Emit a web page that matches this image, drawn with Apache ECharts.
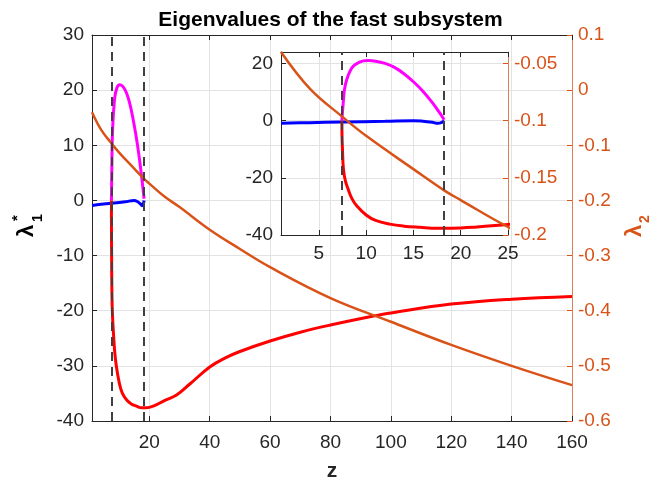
<!DOCTYPE html>
<html>
<head>
<meta charset="utf-8">
<script src="https://cdn.jsdelivr.net/npm/echarts@6/dist/echarts.min.js"></script>
<style>
  html, body { margin: 0; padding: 0; background: #fff; }
  #chart { width: 661px; height: 487px; }
</style>
</head>
<body>
<div id="chart"></div>
<script>
// dashed markers (z values)
const zMarks = [7.44, 18.25];

// lambda1* branches, [z, value]
const blueBranch = [
  [1, -0.9], [4, -0.7], [7.44, -0.5], [12, -0.25], [15, 0], [16, -0.2],
  [17, -0.6], [17.6, -0.95], [18, -0.6], [18.25, 0]
];
const magentaBranch = [
  [7.44, 0], [7.55, 5], [7.8, 12.5], [8.5, 18.5], [9.3, 20.5], [10.2, 21],
  [11, 20.8], [12, 20], [13, 18.6], [14, 16.4], [15, 13.6], [16, 10.3],
  [17, 6.3], [17.8, 2.6], [18.25, 0.3]
];
const redBranch = [
  [7.44, 0], [7.45, -5], [7.5, -10], [7.6, -17], [7.8, -21], [8.1, -24],
  [8.5, -27.3], [9, -29.8], [10, -33], [11, -34.9], [12.5, -36.2], [14, -36.9],
  [15.7, -37.3], [17.5, -37.6], [19, -37.6], [21.7, -37.2], [25, -36.3],
  [29, -35.3], [33.6, -33.2], [40, -30.2], [45, -28.6], [50, -27.4], [60, -25.5],
  [70, -23.9], [80, -22.6], [94, -21], [100, -20.4], [120, -18.8],
  [140, -17.9], [160, -17.4]
];
// lambda2, right axis
const lambda2 = [
  [1, -0.040], [4.1, -0.0725], [7.44, -0.0963], [10, -0.1133], [15, -0.1424],
  [18.25, -0.161], [20, -0.1695], [25, -0.193], [30, -0.212], [40, -0.253],
  [50, -0.288], [60, -0.321], [80, -0.377], [100, -0.42], [120, -0.462],
  [140, -0.5], [160, -0.535]
];

const FONT = 'Liberation Sans, Arial, sans-serif';
const DARK = '#262626';
const ORANGE = '#D95319';
const GRID = '#e3e3e3';

const chart = echarts.init(document.getElementById('chart'));

function xAx(grid, min, max, split, top) {
  return {
    type: 'value', gridIndex: grid, min, max, splitNumber: split,
    position: top ? 'top' : 'bottom',
    axisLine: { show: true, onZero: false, lineStyle: { color: DARK, width: 1 } },
    axisTick: { show: true, inside: true, length: 5, lineStyle: { color: DARK } },
    axisLabel: {
      show: !top, color: DARK, fontFamily: FONT, fontSize: 19,
      margin: grid === 0 ? 12 : 9,
      formatter: v => (v === min ? '' : String(v))
    },
    splitLine: { show: !top, lineStyle: { color: GRID } }
  };
}

function yAx(grid, min, max, interval, right, color, split) {
  return {
    type: 'value', gridIndex: grid, min, max, interval,
    position: right ? 'right' : 'left',
    axisLine: { show: true, onZero: false, lineStyle: { color, width: 1, opacity: right ? 0.7 : 1 } },
    axisTick: { show: true, inside: true, length: 5, lineStyle: { color } },
    axisLabel: {
      color, fontFamily: FONT, fontSize: 19, margin: right ? 6 : 8,
      showMaxLabel: grid === 0
    },
    splitLine: { show: split, lineStyle: { color: GRID } }
  };
}

function line(data, color, xi, yi, w) {
  return {
    type: 'line', data, xAxisIndex: xi, yAxisIndex: yi,
    showSymbol: false, symbol: 'none', smooth: 0.4,
    lineStyle: { color, width: w || 3 }, silent: true, animation: false
  };
}

function marks(xi, yi) {
  return {
    type: 'line', data: [], xAxisIndex: xi, yAxisIndex: yi, silent: true,
    markLine: {
      symbol: 'none', animation: false, label: { show: false },
      lineStyle: { color: '#404040', width: 2, type: [9, 6] },
      data: zMarks.map(z => ({ xAxis: z }))
    }
  };
}

chart.setOption({
  backgroundColor: '#fff',
  animation: false,
  title: {
    text: 'Eigenvalues of the fast subsystem', left: 'center', top: 5,
    textStyle: { fontFamily: FONT, fontSize: 21, fontWeight: 'bold', color: '#000' }
  },
  grid: [
    { left: 92, right: 89, top: 35, bottom: 66 },
    { left: 281, right: 153, top: 52, bottom: 252 }
  ],
  xAxis: [
    Object.assign(xAx(0, 1, 160, 8, false), {
      name: 'z', nameLocation: 'middle', nameGap: 40,
      nameTextStyle: { fontFamily: FONT, fontSize: 21, fontWeight: 'bold', color: DARK }
    }),
    xAx(0, 1, 160, 8, true),
    xAx(1, 1, 25, 5, false),
    xAx(1, 1, 25, 5, true)
  ],
  yAxis: [
    yAx(0, -40, 30, 10, false, DARK, true),
    yAx(0, -0.6, 0.1, 0.1, true, ORANGE, false),
    yAx(1, -40, 24, 20, false, DARK, true),
    yAx(1, -0.2, -0.04, 0.05, true, ORANGE, false)
  ],
  series: [
    line(blueBranch, '#0000FF', 0, 0),
    line(magentaBranch, '#FF00FF', 0, 0),
    line(redBranch, '#FF0000', 0, 0),
    line(lambda2, ORANGE, 0, 1, 2.5),
    marks(0, 0),
    line(blueBranch, '#0000FF', 2, 2),
    line(magentaBranch, '#FF00FF', 2, 2),
    line(redBranch.filter(p => p[0] <= 30), '#FF0000', 2, 2),
    line(lambda2.filter(p => p[0] <= 40), ORANGE, 2, 3, 2.5),
    marks(2, 2)
  ],
  graphic: [
    {
      type: 'group', x: 26.5, y: 231, rotation: Math.PI / 2,
      children: [
        { type: 'text', x: 0, y: 0, style: { text: 'λ', font: 'bold 22px ' + FONT, fill: '#000', align: 'center', verticalAlign: 'middle' } },
        { type: 'text', x: 10, y: -9, style: { text: '*', font: 'bold 15px ' + FONT, fill: '#000', align: 'left', verticalAlign: 'middle' } },
        { type: 'text', x: 9, y: 12, style: { text: '1', font: 'bold 14px ' + FONT, fill: '#000', align: 'left', verticalAlign: 'middle' } }
      ]
    },
    {
      type: 'group', x: 634.5, y: 231, rotation: Math.PI / 2,
      children: [
        { type: 'text', x: 0, y: 0, style: { text: 'λ', font: 'bold 22px ' + FONT, fill: ORANGE, align: 'center', verticalAlign: 'middle' } },
        { type: 'text', x: 8, y: 11, style: { text: '2', font: 'bold 14px ' + FONT, fill: ORANGE, align: 'left', verticalAlign: 'middle' } }
      ]
    }
  ]
});
window.addEventListener('resize', () => chart.resize());
</script>
</body>
</html>
